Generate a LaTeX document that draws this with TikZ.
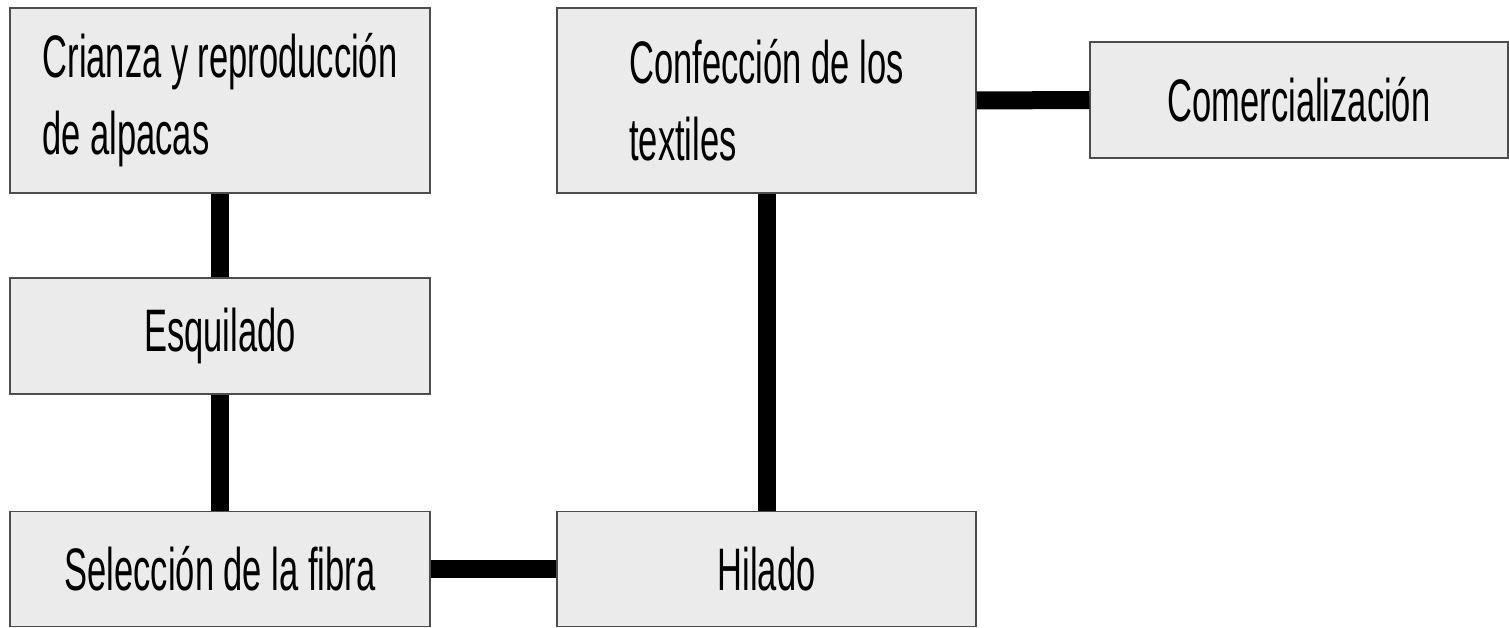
\documentclass[tikz,border=0pt]{standalone}
\usepackage{fontspec}
\setmainfont[FakeStretch=0.575]{Liberation Sans}
\begin{document}
\begin{tikzpicture}[x=1pt,y=-1pt,
  box/.style={draw=black!70, line width=1.5pt, fill=black!8, inner sep=0pt,
    font=\fontsize{60}{77}\selectfont, align=left},
  link/.style={line width=18pt, black}]
\useasboundingbox (0,0) rectangle (1509,628);
\node[box, minimum width=420pt, minimum height=185pt] (b1) at (220,100.5) {Crianza y reproducción\\de alpacas};
\node[box, minimum width=420pt, minimum height=116pt] (b2) at (220,336) {Esquilado};
\node[box, minimum width=420pt, minimum height=115pt] (b3) at (220,569) {Selección de la fibra};
\node[box, minimum width=419pt, minimum height=115pt] (b4) at (766.5,569) {Hilado};
\node[box, minimum width=419pt, minimum height=185pt] (b5) at (766.5,100.5) {Confección de los\\textiles};
\node[box, minimum width=418pt, minimum height=116pt] (b6) at (1299,100) {Comercialización};
\draw[link] (b1.south) -- (b2.north);
\draw[link] (b2.south) -- (b3.north);
\draw[link] (b3.east) -- (b4.west);
\draw[link] (b4.north) -- (b5.south);
\draw[link] (b5.east) -- (b6.west);
\end{tikzpicture}
\end{document}
